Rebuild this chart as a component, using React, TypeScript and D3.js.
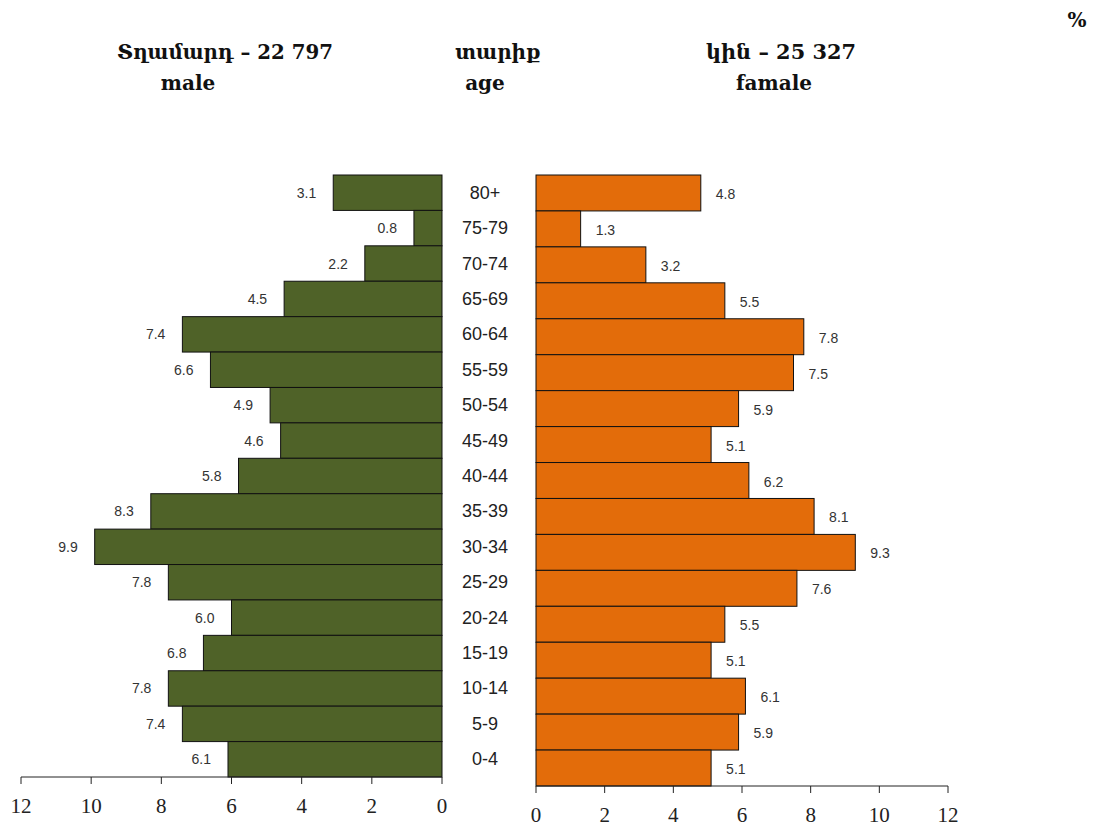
import * as d3 from 'd3';

const ages = ['80+', '75-79', '70-74', '65-69', '60-64', '55-59', '50-54', '45-49', '40-44', '35-39', '30-34', '25-29', '20-24', '15-19', '10-14', '5-9', '0-4'];
const male = [3.1, 0.8, 2.2, 4.5, 7.4, 6.6, 4.9, 4.6, 5.8, 8.3, 9.9, 7.8, 6.0, 6.8, 7.8, 7.4, 6.1];
const female = [4.8, 1.3, 3.2, 5.5, 7.8, 7.5, 5.9, 5.1, 6.2, 8.1, 9.3, 7.6, 5.5, 5.1, 6.1, 5.9, 5.1];
const ticks = [0, 2, 4, 6, 8, 10, 12];

const W = 1099;
const H = 830;
const serif = '"Liberation Serif", "DejaVu Serif", serif';
const titleFont = '"DejaVu Serif", serif';
const sans = '"Liberation Sans", Arial, sans-serif';

export default function App() {
  const xL = d3.scaleLinear().domain([0, 12]).range([442, 21]);
  const xR = d3.scaleLinear().domain([0, 12]).range([536, 948]);
  const yL = d3.scaleBand().domain(ages).range([175, 777]).padding(0);
  const yR = d3.scaleBand().domain(ages).range([175, 786]).padding(0);

  return (
    <svg width={W} height={H} style={{ display: 'block', position: 'absolute', left: 0, top: 0 }}>
      <rect width={W} height={H} fill="#fff" />

      {/* titles */}
      <g fontFamily={titleFont} fontWeight="bold" fontSize={20} textAnchor="middle" fill="#111">
        <text x={225} y={59} textLength={216} lengthAdjust="spacingAndGlyphs">Տղամարդ – 22 797</text>
        <text x={188} y={90}>male</text>
        <text x={498} y={59}>տարիք</text>
        <text x={485} y={90}>age</text>
        <text x={781} y={59} textLength={150} lengthAdjust="spacingAndGlyphs">կին – 25 327</text>
        <text x={774} y={90}>famale</text>
        <text x={1077} y={27}>%</text>
      </g>

      {/* male bars */}
      {male.map((v, i) => (
        <g key={'m' + i}>
          <rect
            x={xL(v)}
            y={yL(ages[i])}
            width={xL(0) - xL(v)}
            height={yL.bandwidth()}
            fill="#4f6228"
            stroke="#111"
            strokeWidth={1}
          />
          <text
            x={xL(v) - 17}
            y={(yL(ages[i]) as number) + yL.bandwidth() / 2 + 5}
            textAnchor="end"
            fontFamily={sans}
            fontSize={14}
            fill="#333"
          >
            {v.toFixed(1)}
          </text>
        </g>
      ))}

      {/* female bars */}
      {female.map((v, i) => (
        <g key={'f' + i}>
          <rect
            x={xR(0)}
            y={yR(ages[i])}
            width={xR(v) - xR(0)}
            height={yR.bandwidth()}
            fill="#e36c0a"
            stroke="#111"
            strokeWidth={1}
          />
          <text
            x={xR(v) + 15}
            y={(yR(ages[i]) as number) + yR.bandwidth() / 2 + 6}
            textAnchor="start"
            fontFamily={sans}
            fontSize={14}
            fill="#333"
          >
            {v.toFixed(1)}
          </text>
        </g>
      ))}

      {/* age labels */}
      {ages.map((a) => (
        <text
          key={a}
          x={485}
          y={(yL(a) as number) + yL.bandwidth() / 2 + 6}
          textAnchor="middle"
          fontFamily={sans}
          fontSize={18}
          fill="#222"
        >
          {a}
        </text>
      ))}

      {/* left axis */}
      <g>
        <line x1={xL(12)} x2={xL(0)} y1={777} y2={777} stroke="#222" />
        {ticks.map((t) => (
          <g key={'lt' + t}>
            <line x1={xL(t)} x2={xL(t)} y1={777} y2={784} stroke="#222" />
            <text x={xL(t)} y={813} textAnchor="middle" fontFamily={serif} fontSize={21} fill="#222">
              {t}
            </text>
          </g>
        ))}
      </g>

      {/* right axis */}
      <g>
        <line x1={xR(0)} x2={xR(12)} y1={786} y2={786} stroke="#222" />
        {ticks.map((t) => (
          <g key={'rt' + t}>
            <line x1={xR(t)} x2={xR(t)} y1={786} y2={793} stroke="#222" />
            <text x={xR(t)} y={822} textAnchor="middle" fontFamily={serif} fontSize={21} fill="#222">
              {t}
            </text>
          </g>
        ))}
      </g>
    </svg>
  );
}
